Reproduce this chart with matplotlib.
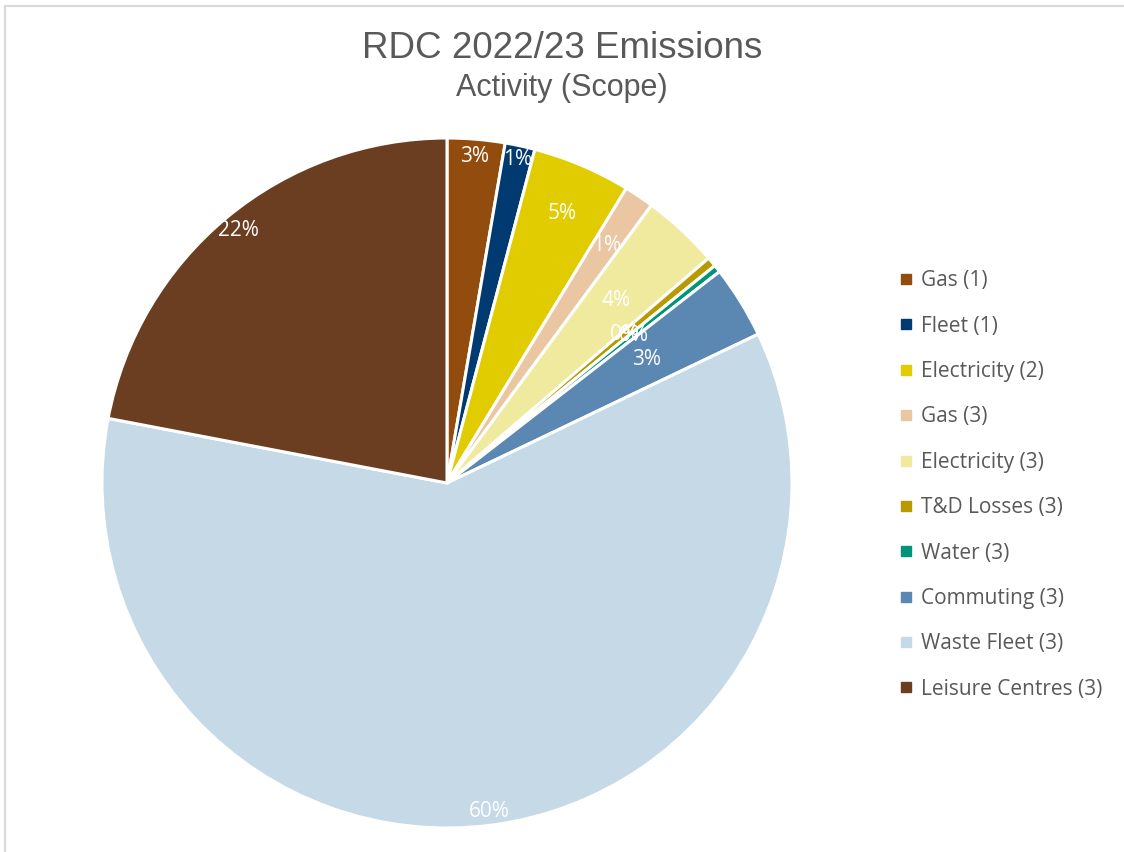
import matplotlib.pyplot as plt
from matplotlib.lines import Line2D
import numpy as np

# values (percent of total emissions)
activities = ['Gas (1)', 'Fleet (1)', 'Electricity (2)', 'Gas (3)', 'Electricity (3)',
              'T&D Losses (3)', 'Water (3)', 'Commuting (3)', 'Waste Fleet (3)',
              'Leisure Centres (3)']
shares = [2.7, 1.4, 4.6, 1.4, 3.6, 0.45, 0.35, 3.4, 60.1, 22.0]

colours = ['#914C0E', '#003A70', '#E0CC00', '#EBC6A2', '#F0EA9E',
           '#B89A00', '#00957A', '#5B87B3', '#C5D9E7', '#6B3E22']
# how far out each data label sits (fraction of radius), like Excel puts them
label_dist = [0.95, 0.96, 0.85, 0.83, 0.72, 0.67, 0.69, 0.68, 0.96, 0.95]

grey = '#595959'
fig = plt.figure(figsize=(11.24, 8.52), dpi=100)

# chart border (only top and left edges are visible in the crop)
fig.add_artist(Line2D([5/1124, 5/1124], [0, 1 - 6/852], color='#D9D9D9', lw=1.5))
fig.add_artist(Line2D([5/1124, 1], [1 - 6/852, 1 - 6/852], color='#D9D9D9', lw=1.5))

ax = fig.add_axes([102/1124, 24/852, 690/1124, 690/852])
wedges, _ = ax.pie(shares, colors=colours, startangle=90, counterclock=False,
                   wedgeprops=dict(edgecolor='white', linewidth=2.2))
ax.set_xlim(-1, 1)
ax.set_ylim(-1, 1)

for w, v, d in zip(wedges, shares, label_dist):
    ang = np.deg2rad((w.theta1 + w.theta2) / 2)
    ax.text(d * np.cos(ang), d * np.sin(ang), f'{v:.0f}%', color='white',
            fontsize=15, family='Open Sans', ha='center', va='center')

fig.text(0.5, 1 - 48/852, 'RDC 2022/23 Emissions', ha='center', va='center',
         fontsize=26.5, color=grey, family='Liberation Sans')
fig.text(0.5, 1 - 88/852, 'Activity (Scope)', ha='center', va='center',
         fontsize=22, color=grey, family='Liberation Sans')

handles = [Line2D([], [], marker='s', ls='', markersize=7, color=c) for c in colours]
leg = fig.legend(handles, activities, loc='center left', bbox_to_anchor=(882/1124, 1 - 485/852),
                 frameon=False, prop=dict(family='Open Sans', size=15),
                 labelspacing=1.17, handlelength=0.5, handletextpad=0.45)
for t in leg.get_texts():
    t.set_color(grey)

fig.savefig('out.png', dpi=100)
